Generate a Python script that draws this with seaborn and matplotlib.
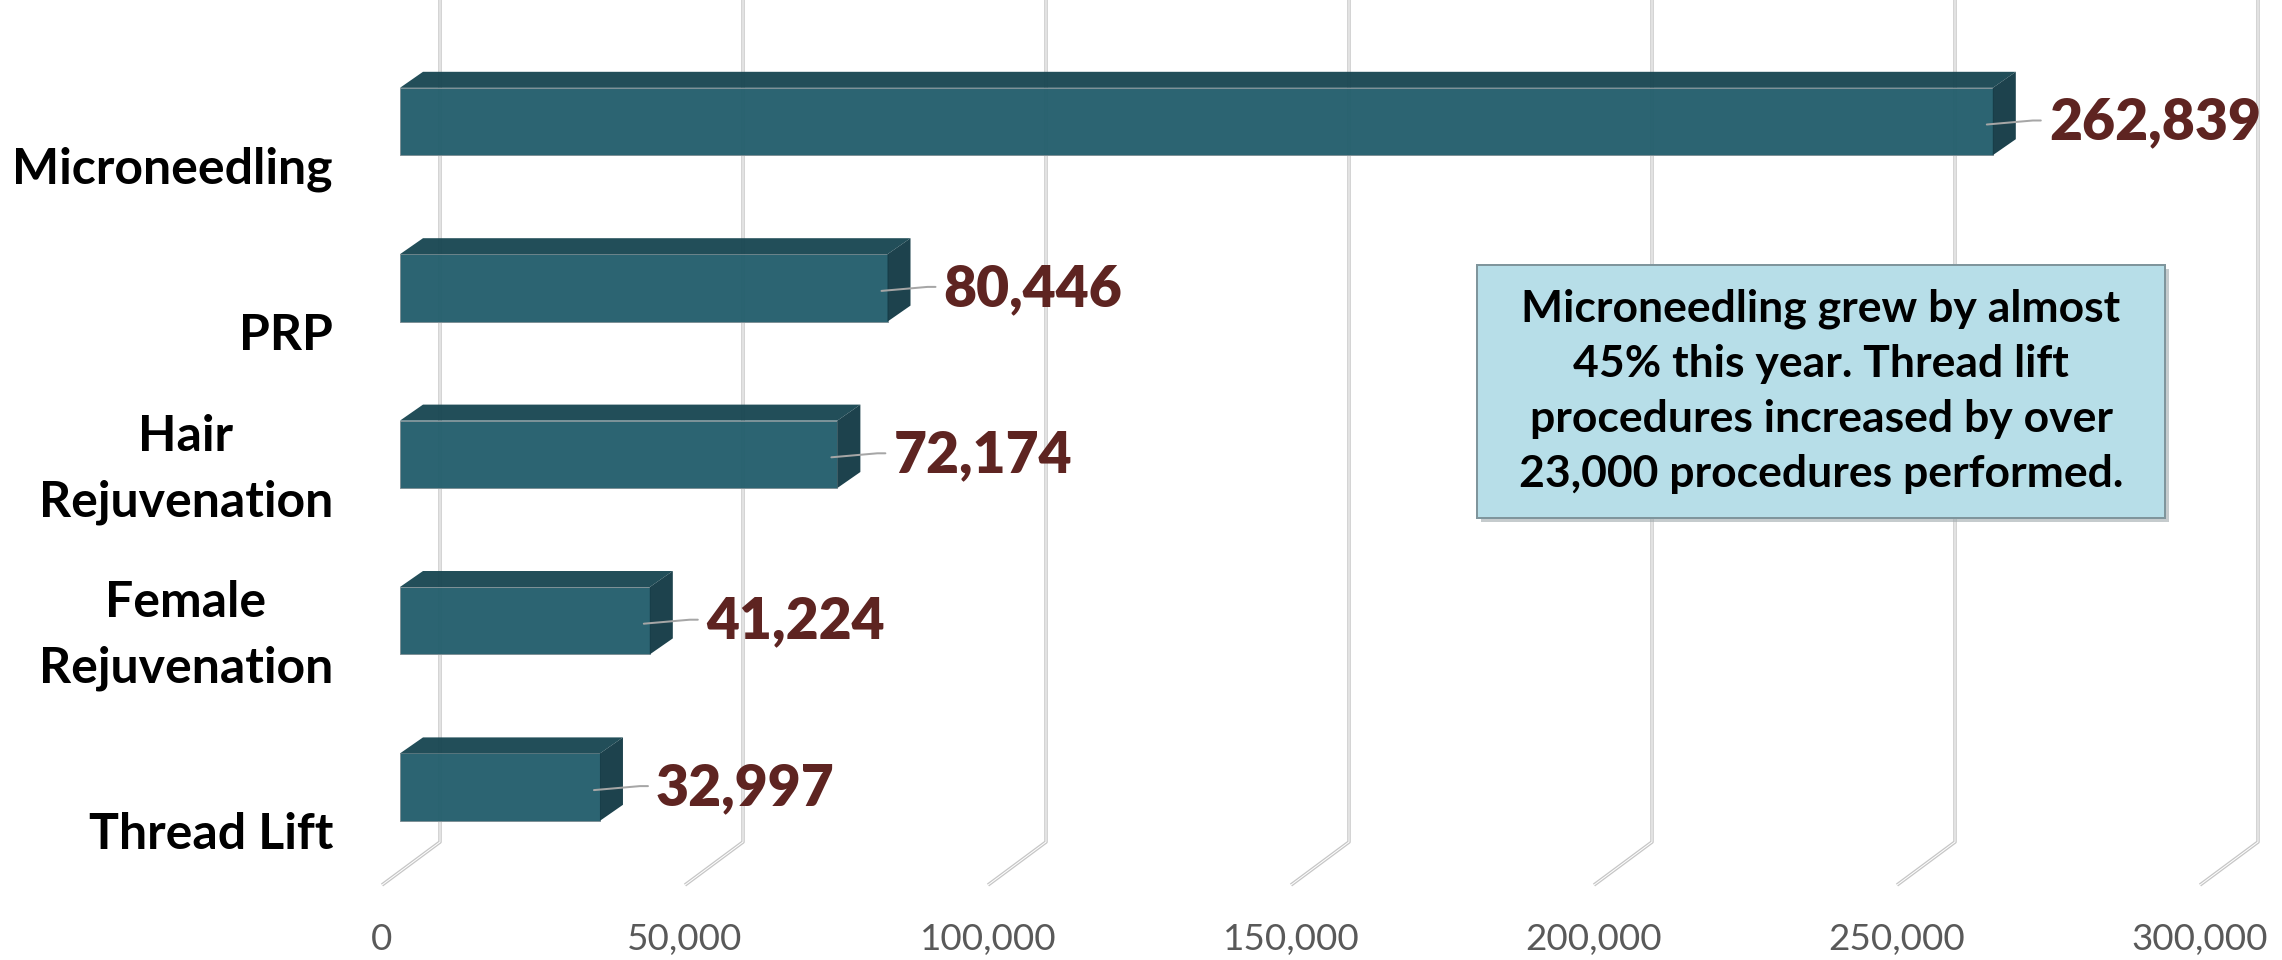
import numpy as np
import pandas as pd
import matplotlib
matplotlib.use("Agg")
import matplotlib.pyplot as plt
from matplotlib.patches import Polygon, Rectangle
import seaborn as sns

# ---- data -------------------------------------------------------------
procedures = ["Microneedling", "PRP", "Hair\nRejuvenation",
              "Female\nRejuvenation", "Thread Lift"]
counts = [262839, 80446, 72174, 41224, 32997]
tick_values = [0, 50000, 100000, 150000, 200000, 250000, 300000]
tick_labels = [f"{v:,}" for v in tick_values]
note_lines = ["Microneedling grew by almost",
              "45% this year. Thread lift",
              "procedures increased by over",
              "23,000 procedures performed."]

# ---- styling ----------------------------------------------------------
W, H, DPI = 2282, 960, 100
sns.set_theme(style="white")
plt.rcParams["font.family"] = ["Lato", "DejaVu Sans"]

FRONT = "#235E6C"
TOP = "#1A4853"
SIDE = "#153C47"
VALUE_COLOR = "#5E2421"
GRID = "#C6C6C6"

# pixel geometry of the pseudo-3D frame
X0_PX = 400.0          # zero on the front face of the bars
PX_PER_50K = 303.0
Y0_PX = 121.5          # centre of the first bar
ROW_PX = 166.4         # distance between bar centres
XU = 50000 / PX_PER_50K
YU = 1 / ROW_PX


def px_x(p):
    return (p - X0_PX) * XU


def px_y(p):
    return (p - Y0_PX) * YU


def lw(px):
    return px * 72 / DPI


fig = plt.figure(figsize=(W / DPI, H / DPI), dpi=DPI)
ax = fig.add_axes([0, 0, 1, 1])

df = pd.DataFrame({"procedure": procedures, "count": counts})
sns.barplot(data=df, x="count", y="procedure", orient="h", width=0.405,
            color=FRONT, saturation=1, ax=ax, zorder=3,
            edgecolor="#7E9096", linewidth=lw(1))

ax.set_xlim(px_x(0), px_x(W))
ax.set_ylim(px_y(H), px_y(0))
ax.axis("off")

# back wall gridlines and floor lines
BACK_DX, FLOOR_DX = 40 * XU, -18 * XU
WALL_BOTTOM, FLOOR_FRONT = px_y(842), px_y(885)
for v in tick_values:
    xs = [v + BACK_DX, v + BACK_DX, v + FLOOR_DX]
    ys = [px_y(0), WALL_BOTTOM, FLOOR_FRONT]
    ax.plot(xs, ys, color=GRID, lw=lw(3.5), zorder=1, solid_capstyle="butt")
    ax.plot(xs, ys, color="white", lw=lw(1.0), zorder=1.1, solid_capstyle="butt")

# depth faces of each bar, value labels and leader lines
DDX, DDY = 23 * XU, -16 * YU
for patch, value in zip(ax.patches, counts):
    patch.set_alpha(0.96)
    x0 = patch.get_x()
    x1 = x0 + patch.get_width()
    yt = patch.get_y()
    yb = yt + patch.get_height()
    yc = (yt + yb) / 2
    ax.add_patch(Polygon([(x0, yt), (x0 + DDX, yt + DDY), (x1 + DDX, yt + DDY), (x1, yt)],
                         closed=True, facecolor=TOP, edgecolor="none", zorder=3, alpha=0.97))
    ax.add_patch(Polygon([(x1, yt), (x1 + DDX, yt + DDY), (x1 + DDX, yb + DDY), (x1, yb)],
                         closed=True, facecolor=SIDE, edgecolor="none", zorder=3, alpha=0.97))
    ax.plot([x1 - 6 * XU, x1 + 40 * XU, x1 + 48 * XU],
            [yc + 3 * YU, yc - 1 * YU, yc - 1 * YU],
            color="#A6A6A6", lw=lw(2), zorder=4)
    ax.text(x1 + 56 * XU, yc + 18 * YU, f"{value:,}", ha="left", va="baseline",
            color=VALUE_COLOR, fontsize=41, fontweight="heavy", zorder=5)

# category labels (baseline of the last line sits below the bar centre)
for i, name in enumerate(procedures):
    ax.text(px_x(333), i + 62 * YU, name,
            ha="right", va="baseline", ma="center", fontsize=36,
            fontweight="bold", color="black", linespacing=1.55, zorder=5)

# value axis labels along the front edge of the floor
for v, lab in zip(tick_values, tick_labels):
    ax.text(v + FLOOR_DX, px_y(950), lab, ha="center", va="baseline",
            color="#595959", fontsize=26.5, zorder=5)

# call-out box
bx, by, bw, bh = px_x(1477), px_y(265), 688 * XU, 253 * YU
ax.add_patch(Rectangle((bx + 4 * XU, by + 4 * YU), bw, bh, facecolor="#9FA9AC",
                       edgecolor="none", alpha=0.6, zorder=5))
ax.add_patch(Rectangle((bx, by), bw, bh, facecolor="#B7DEE8",
                       edgecolor="#7F959C", lw=lw(2), zorder=6))
ax.text(bx + bw / 2, by + bh / 2, "\n".join(note_lines), ha="center", va="center",
        ma="center", fontsize=32, fontweight="bold", color="black",
        linespacing=1.45, zorder=7)

fig.savefig("out.png", dpi=DPI)
